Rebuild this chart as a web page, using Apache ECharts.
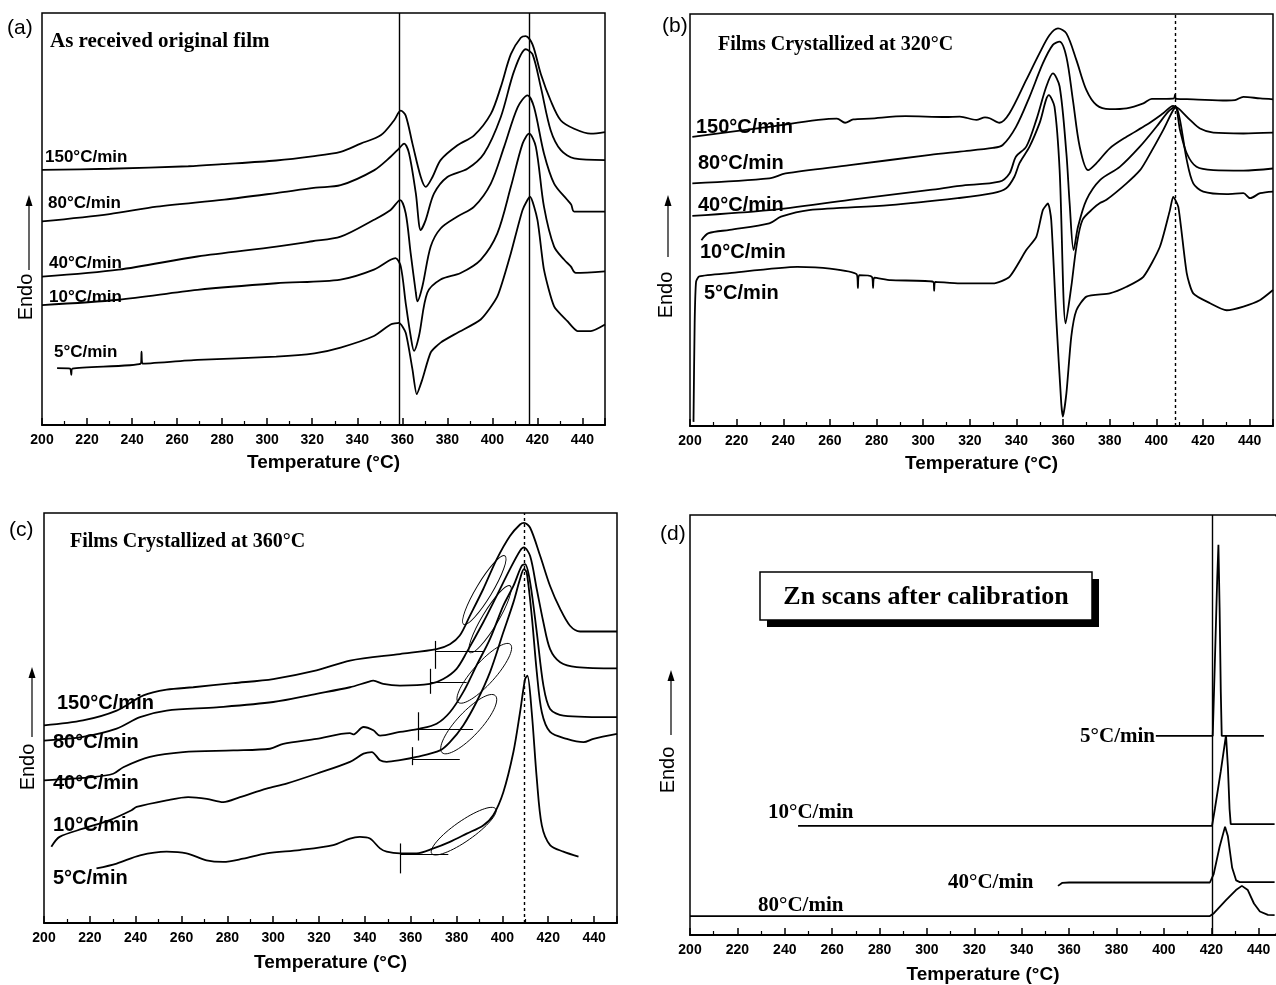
<!DOCTYPE html>
<html>
<head>
<meta charset="utf-8">
<title>DSC scans</title>
<script src="https://cdn.jsdelivr.net/npm/echarts@6/dist/echarts.min.js"></script>
<style>
  html, body { margin: 0; padding: 0; background: #fff; }
  #chart { width: 1276px; height: 985px; }
</style>
</head>
<body>
<div id="chart"></div>
<script>
// temperature axis (all four panels)
const tempMin = 200
const tempMax = 450
const tempMaxD = 447.3   // panel (d) is cut off at the right edge of the figure
const tempStep = 20

const rates = ['150°C/min', '80°C/min', '40°C/min', '10°C/min', '5°C/min']
const titles = ['As received original film', 'Films Crystallized at 320°C', 'Films Crystallized at 360°C', 'Zn scans after calibration']

// (a) as received film  [T, signal]
const a150 = [[200,61.9],[230,62.2],[265,62.8],[280,63.3],[304,64.2],[320,65.2],[332.6,66.3],[341.5,68.3],[350.4,70.3],[356.3,73.9],[359.3,76.3],[361.5,75.1],[364.5,68.3],[368.2,60.2],[370.4,57.8],[373.4,60.2],[377,64.3],[384.5,67.9],[391.9,70.3],[399.3,75.5],[403.7,82],[408.2,90],[412.6,94],[414.8,94.4],[417.8,92.4],[421.5,85.2],[425.9,78.7],[430.4,73.9],[436.3,71.9],[443.7,70.7],[450,71.1]]
const a80 = [[200,49.4],[230,51.2],[251,53],[281,54.7],[304,56.3],[321.6,57.6],[332.6,58.2],[347.4,61.8],[354.8,65.1],[358.5,67.1],[360.8,68.3],[363,65.9],[366,56.2],[368.2,47.3],[370.4,49.8],[374.1,56.2],[380,60.2],[388.9,62.2],[396.3,65.9],[403.7,74.7],[409.7,86],[414.8,91.2],[417.8,90],[421.5,82],[425.9,71.5],[430.4,66.7],[436.3,64.7],[450,64.3]]
const a40 = [[200,36],[234,37.7],[269,40.9],[304,43.3],[320,44.6],[332.6,45.7],[347.4,49.8],[354.8,52.2],[359,54.6],[361.5,51.4],[363.7,41.7],[366,32.1],[366.7,30],[368.9,33.6],[372.6,43.3],[377,47.7],[384.5,50.6],[391.9,53],[399.3,58.6],[405.2,67.5],[411.2,77.1],[415.6,80],[418.5,77.1],[422.9,65.9],[427.4,58.6],[433.3,54.6],[435,53.5],[436.3,51.8],[450,51.8]]
const a10 = [[200,29.1],[234,30.4],[269,32.8],[304,34.4],[332.6,35.3],[347.4,37.7],[354.8,40.1],[357,40.5],[359.3,38.5],[361.5,29.6],[363.7,21.6],[365.2,18],[367.4,21.6],[371.1,32.1],[377,35.3],[385.9,36.9],[394.8,40.1],[402.2,46.5],[408.2,57.8],[413.4,68.3],[416.3,70.7],[419.3,67.5],[422.9,53],[427.4,43.3],[431.9,40.1],[434.8,38.5],[437,36.9],[450,37.3]]
const a5 = [[206.7,13.8],[212.5,13.7],[213,12.2],[213.5,13.7],[243.8,14.9],[244.2,17.8],[244.6,14.9],[269,15.8],[304,16.6],[321,17.4],[332.6,18.8],[347.4,21.6],[354.8,24.4],[358.5,24.8],[361.5,22.4],[364.5,13.5],[366.4,7.5],[368.9,11.1],[372.6,17.6],[377,20],[384.5,22.4],[394.8,25.6],[402.2,31.2],[408.2,41.7],[413.4,52.2],[416.7,55.4],[420,49.8],[422.9,37.7],[427.4,28.8],[433.3,25.2],[437.8,22.8],[443.7,22.8],[450,24.4]]
const aLines = [358.5, 416.5]

// (b) crystallized at 320 C
const b150 = [[201,70.2],[234,72.6],[263,74.6],[266.5,73.6],[270,74.4],[277,74.6],[292.4,75.2],[309.6,75],[315.7,75.1],[322.8,74.3],[326.5,74.9],[328.5,74.7],[332.7,73.6],[337,75.9],[344.2,84],[349.9,90.5],[354.2,94.9],[357.8,96.5],[361.4,95.3],[365.7,88.8],[370,81.5],[374.3,77.9],[380,76.9],[387.2,77.1],[394.4,78.3],[398,79.4],[404.4,79.4],[407.5,79.5],[408,80.4],[408.5,79.4],[415.8,79.3],[430.1,79],[433.7,79.1],[437.3,79.9],[444.5,79.5],[450,79.3]]
const b80 = [[201,58.9],[234,60.1],[241,61.3],[268.5,63.3],[303,65.8],[315.7,66.6],[329.9,67.5],[334.1,68.2],[339.8,72.6],[345.6,79.9],[351.3,88],[355.6,92.5],[358.5,93.3],[361.4,89.6],[364.2,79.1],[367.1,67.8],[370.7,62.1],[374.3,63.8],[380,67.4],[387.2,70.2],[395.8,73.1],[402.9,75.9],[407.2,77.7],[409.4,77.1],[414.4,74.3],[418.7,72.2],[424.4,71.2],[437.3,71],[450,71.2]]
const b40 = [[201,51],[234,52.4],[268.5,54.9],[303,57.3],[315.7,58.3],[332.7,59.3],[337,61.3],[339.8,65.4],[344.2,67.8],[348.5,74.3],[352.8,82.4],[355.6,85.6],[358.5,82.4],[361.4,66.2],[362.8,54],[364.5,42.7],[366.4,48.4],[370,54.9],[375.8,59.7],[384.3,62.9],[392.9,67.8],[400.1,72.7],[405.1,76.3],[408,77.5],[410.1,71.9],[413,66.2],[417.2,62.9],[424.4,62.1],[437.3,62],[450,62.5]]
const b10 = [[204.9,45.1],[208,46.8],[217,47.6],[234,49.2],[239,50.8],[251,52.4],[285.6,53.6],[314.8,55.3],[329.9,56.5],[335.6,57.7],[339.1,60.5],[341.3,63.8],[345.6,67.8],[349.9,73.5],[353.9,80.3],[356.3,77.5],[358.5,62.1],[361.1,24.9],[363.5,33.8],[365.7,43.5],[368.3,50],[372.9,52.8],[375.8,54.1],[378.6,54.9],[387.2,58.9],[393,62.1],[395.8,64.6],[402.9,71.8],[407.2,76.7],[408.4,77.3],[410.1,74.3],[413,64.6],[415.8,58.9],[420.1,56.9],[430.1,56.3],[437.3,56.5],[440.2,55.3],[444.5,56.5],[450,56.9]]
const b5 = [[201.5,1],[202,25],[202.6,35],[204,36.3],[217,37.1],[246,38.6],[260,38.2],[271.5,36.8],[272,33.5],[272.5,36.6],[278,36.2],[278.5,33.5],[279,36],[286,35.4],[304.3,35],[304.7,32.8],[305.1,35],[315.7,34.6],[329.9,34.6],[337,36.2],[344.2,42.7],[348.5,45.9],[351.3,52.4],[353.5,54],[354.9,50],[357.1,25.7],[359.2,5.5],[359.9,2.3],[361.4,7.9],[363.5,21.7],[365.7,28.1],[370,31.4],[380,32.2],[387.2,33.8],[394.4,36.2],[401.5,43.5],[405.8,52.4],[407.2,55.6],[409.4,53.2],[413,37.1],[415.8,32.2],[423,29.8],[430.1,28.1],[437.3,29],[444.5,30.6],[450,33]]
const bLine = 408

// (c) crystallized at 360 C
const c150 = [[200,48.2],[217,49.4],[231.7,51.8],[243.4,55.5],[253.5,56.9],[265.1,57.5],[282.6,58.5],[300,59.5],[318.9,61.6],[333.5,64],[355.3,65.6],[371.3,66.8],[377.1,68],[381.4,70.1],[385.8,74.9],[391.6,81.4],[397.5,88.7],[403.3,94.4],[407.7,97.2],[409.4,97.6],[412.1,96.4],[416.5,89.5],[420.8,82.2],[425.2,76.6],[429.5,72.5],[433.9,71.1],[450,71.1]]
const c80 = [[200,44.5],[217,45.4],[231.7,47.4],[241.9,50.2],[253.5,51.8],[275.3,52.6],[300,53.9],[318.9,55.9],[333.5,57.5],[340.8,58.7],[343.7,59.1],[348,58.3],[355.3,57.9],[368.4,58.3],[374.2,59.5],[380,62],[384.4,66],[391.6,73.3],[397.5,79.8],[403.3,86.3],[407.7,90.8],[409.4,91.6],[412.1,89.5],[415,81.4],[417.9,73.3],[420.8,66.8],[425.2,63.6],[432.4,62.4],[450,62.1]]
const c40 = [[200,34.8],[221.4,35.6],[230.2,36.4],[234.6,38],[246.2,40.5],[260.7,41.7],[282.6,42.1],[298.6,42.5],[304.4,43.7],[318.9,44.9],[333.5,46.3],[334.9,46],[339.4,47.8],[343.7,47],[346.6,45.7],[355.3,46.6],[364,47.4],[371.3,48.6],[377.1,51.4],[382.9,56.3],[388.7,62.8],[394.6,69.3],[400.4,77.4],[404.8,82.2],[408.4,87.1],[409.9,87.5],[412.1,83.1],[415,70.9],[417.9,57.9],[420.8,52.2],[426.6,50.6],[450,50.2]]
const c10 = [[203.2,18.6],[206.8,21],[217,23],[228.7,25.1],[238.2,27.5],[240.4,28.3],[253.5,29.9],[262.9,30.7],[271,30.3],[278.2,29.5],[285.5,30.7],[297.1,32.8],[305.8,34],[318.9,36.4],[333.5,39.3],[339.4,41.3],[343,41.7],[346.6,39.7],[349.5,39.3],[355.3,39.7],[362.6,40.5],[372.8,42.1],[377.1,44.1],[382.9,48.2],[388.7,53.9],[394.6,61.2],[400.4,70.9],[404.8,78.2],[407.7,83.9],[409.4,86.3],[410.6,85.5],[412.8,74.9],[415,61.2],[417.2,51.4],[420.8,46.6],[428.1,44.9],[435.4,44.1],[439.7,44.9],[450,46.1]]
const c5 = [[222.9,13.3],[231.7,14.5],[241.9,16.5],[253.5,17.4],[262.2,17],[270.9,15.3],[278.2,14.9],[286.9,15.7],[297.1,17],[311.6,17.8],[326.2,19],[333.5,20.6],[337.8,21],[342.2,20.6],[346.6,18.2],[349.5,17.4],[355.3,17],[362.6,17],[369.9,18.2],[377.1,19.8],[384.4,21.8],[391.6,23.8],[396,26.3],[400.4,31.9],[404.8,41.7],[407.7,51.4],[409.9,59.5],[410.9,60.3],[412.8,51.4],[415,35.2],[417.2,23.8],[420.8,19],[426.6,17.4],[433.2,16.2]]
const cLine = 409.5
// onset constructions: [T onset, baseline, T end, tick low, tick high]
const cOnsets = [[370.8,66.2,391.6,62,68.8],[368.5,58.7,384.4,55.9,62],[363.4,47.2,387.2,44.5,51.4],[360.6,39.9,381.4,38.5,42.9],[355.6,16.7,376.4,12.1,19.4]]
// circled leading edges: [T, signal] centres
const cLoops = [[392.1,81.2],[394.6,74.1],[392.1,60.9],[385.3,48.5],[383.1,22.4]]

// (d) Zn calibration
const d5 = [[396.6,47.4],[420.6,47.4],[421.5,65],[422.5,85],[423,92.9],[423.5,78],[424,58],[424.4,47.4],[442.2,47.4]]
const d10 = [[245.6,26],[420.3,26],[421.5,30],[424,39],[426.2,47.6],[427,40],[427.7,30],[428.2,26.4],[450,26.4]]
const d40 = [[355.3,11.7],[357,12.4],[360,12.5],[419.4,12.5],[421,14.5],[423.5,21],[425.8,25.8],[427,23.5],[428.8,16],[430.5,13],[432,12.6],[450,12.6]]
const d80 = [[200,4.5],[419.4,4.5],[421.1,5.2],[426.2,8.3],[430.4,10.7],[432.9,11.7],[435.4,10.7],[438,7.5],[440.5,5.6],[443.9,4.8],[450,4.7]]
const dLine = 420.5

const chart = echarts.init(document.getElementById('chart'))

const SANS = '"Liberation Sans", Arial, sans-serif'
const SERIF = '"Liberation Serif", "Times New Roman", serif'

const grids = [
  { left: 42, top: 13, width: 563, height: 412 },
  { left: 690, top: 14, width: 583, height: 412 },
  { left: 44, top: 513, width: 573, height: 410 },
  { left: 690, top: 515, width: 587, height: 420 }
].map(g => Object.assign(g, { show: true, borderColor: '#000', borderWidth: 1.5 }))

const xAxes = [28, 28, 30, 30].map((gap, i) => ({
  gridIndex: i,
  type: 'value',
  min: tempMin,
  max: i === 3 ? tempMaxD : tempMax,
  interval: tempStep,
  axisLine: { lineStyle: { color: '#000', width: 2 } },
  axisTick: { inside: true, length: 7, lineStyle: { color: '#000', width: 1.5 } },
  minorTick: { show: true, splitNumber: 2, length: 4, lineStyle: { color: '#000', width: 1.2 } },
  splitLine: { show: false },
  axisLabel: { color: '#000', fontWeight: 'bold', fontSize: 14, fontFamily: SANS, margin: 8, showMaxLabel: false },
  name: 'Temperature (°C)',
  nameLocation: 'middle',
  nameGap: gap,
  nameTextStyle: { color: '#000', fontWeight: 'bold', fontSize: 19, fontFamily: SANS }
}))

const yAxes = [0, 1, 2, 3].map(i => ({ gridIndex: i, type: 'value', min: 0, max: 100, show: false }))

function curve (data, gi, extra) {
  return Object.assign({
    type: 'line', data: data, xAxisIndex: gi, yAxisIndex: gi,
    showSymbol: false, symbol: 'none', smooth: 0.3, silent: true, clip: true,
    lineStyle: { color: '#000', width: 1.8 }
  }, extra || {})
}

function vline (x, type) {
  return {
    silent: true, symbol: 'none', label: { show: false },
    lineStyle: { color: '#000', width: 1.4, type: type || 'solid' },
    data: [].concat(x).map(v => ({ xAxis: v }))
  }
}

// onset tangent + tick marks for panel (c)
const onsetLines = []
cOnsets.forEach(o => {
  onsetLines.push([{ coord: [o[0], o[1]] }, { coord: [o[2], o[1]] }])
  onsetLines.push([{ coord: [o[0], o[3]] }, { coord: [o[0], o[4]] }])
})

const series = [
  curve(a150, 0, { markLine: vline(aLines) }), curve(a80, 0), curve(a40, 0), curve(a10, 0), curve(a5, 0, { smooth: 0.2 }),
  curve(b150, 1, { markLine: vline(bLine, [3, 3]) }), curve(b80, 1), curve(b40, 1), curve(b10, 1), curve(b5, 1, { smooth: 0.2 }),
  curve(c150, 2, { markLine: vline(cLine, [3, 3]) }), curve(c80, 2), curve(c40, 2), curve(c10, 2), curve(c5, 2),
  curve([], 2, { markLine: { silent: true, symbol: 'none', label: { show: false }, lineStyle: { color: '#000', width: 1.2, type: 'solid' }, data: onsetLines } }),
  curve(d5, 3, { smooth: false, markLine: vline(dLine) }), curve(d10, 3, { smooth: false }), curve(d40, 3, { smooth: false }), curve(d80, 3, { smooth: false })
]

chart.setOption({
  animation: false,
  backgroundColor: '#fff',
  grid: grids,
  xAxis: xAxes,
  yAxis: yAxes,
  series: series
})

function txt (s, x, y, font, align) {
  return { type: 'text', x: x, y: y, z: 100, style: { text: s, font: font, fill: '#000', align: align || 'left', verticalAlign: 'middle' } }
}

function endo (tx, ty, ax, ay1, ay2) {
  return [
    { type: 'text', x: tx, y: ty, rotation: Math.PI / 2, z: 100, style: { text: 'Endo', font: '20px ' + SANS, fill: '#000', align: 'center', verticalAlign: 'middle' } },
    { type: 'line', z: 100, shape: { x1: ax, y1: ay1, x2: ax, y2: ay2 + 6 }, style: { stroke: '#000', lineWidth: 1.2 } },
    { type: 'polygon', z: 100, shape: { points: [[ax, ay2], [ax - 3.5, ay2 + 11], [ax + 3.5, ay2 + 11]] }, style: { fill: '#000' } }
  ]
}

const rateFontA = 'bold 17px ' + SANS
const rateFont = 'bold 20px ' + SANS
const rateFontD = 'bold 21px ' + SERIF
const panelFont = '21px ' + SANS

let graphics = [
  txt('(a)', 7, 28, panelFont),
  txt('(b)', 662, 26, panelFont),
  txt('(c)', 9, 530, panelFont),
  txt('(d)', 660, 534, panelFont),
  txt(titles[0], 50, 42, 'bold 21px ' + SERIF),
  txt(titles[1], 718, 45, 'bold 20px ' + SERIF),
  txt(titles[2], 70, 542, 'bold 20px ' + SERIF),
  // (a) rates
  txt(rates[0], 45, 157, rateFontA), txt(rates[1], 48, 203, rateFontA), txt(rates[2], 49, 263, rateFontA),
  txt(rates[3], 49, 297, rateFontA), txt(rates[4], 54, 352, rateFontA),
  // (b) rates
  txt(rates[0], 696, 127, rateFont), txt(rates[1], 698, 163, rateFont), txt(rates[2], 698, 205, rateFont),
  txt(rates[3], 700, 252, rateFont), txt(rates[4], 704, 293, rateFont),
  // (c) rates
  txt(rates[0], 57, 703, rateFont), txt(rates[1], 53, 742, rateFont), txt(rates[2], 53, 783, rateFont),
  txt(rates[3], 53, 825, rateFont), txt(rates[4], 53, 878, rateFont),
  // (d) rates
  txt(rates[4], 1155, 737, rateFontD, 'right'), txt(rates[3], 768, 813, rateFontD),
  txt(rates[2], 948, 883, rateFontD), txt(rates[1], 758, 906, rateFontD),
  // (d) boxed caption with drop shadow
  { type: 'rect', z: 99, shape: { x: 767, y: 579, width: 332, height: 48 }, style: { fill: '#000' } },
  { type: 'rect', z: 100, shape: { x: 760, y: 572, width: 332, height: 48 }, style: { fill: '#fff', stroke: '#000', lineWidth: 1.5 } },
  { type: 'text', x: 926, y: 597, z: 101, style: { text: titles[3], font: 'bold 26px ' + SERIF, fill: '#000', align: 'center', verticalAlign: 'middle' } },
  // panel (d) runs off the page: no right-hand frame
  { type: 'rect', z: 120, shape: { x: 1274.6, y: 516.5, width: 2, height: 417 }, style: { fill: '#fff' } }
]
graphics = graphics.concat(endo(26, 297, 29, 270, 195), endo(666, 295, 668, 257, 195),
  endo(28, 767, 32, 737, 667), endo(668, 770, 671, 735, 670))

// ellipses round the leading edges in (c), placed through the axes
const loopShape = [[40, 8, 59], [39, 8, 59], [39, 11, 48], [39, 12, 47], [39, 10, 35]]
cLoops.forEach((c, i) => {
  const p = chart.convertToPixel({ gridIndex: 2 }, c)
  graphics.push({
    type: 'ellipse', x: p[0], y: p[1], rotation: loopShape[i][2] * Math.PI / 180, z: 50,
    shape: { cx: 0, cy: 0, rx: loopShape[i][0], ry: loopShape[i][1] },
    style: { fill: 'none', stroke: '#000', lineWidth: 0.9 }
  })
})

chart.setOption({ graphic: graphics })
</script>
</body>
</html>
